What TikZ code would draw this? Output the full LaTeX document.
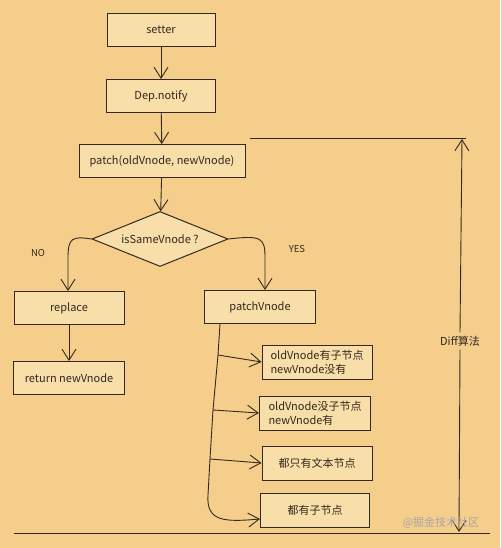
\documentclass[tikz,border=0pt]{standalone}
\usepackage{fontspec}
\setmainfont{Noto Sans CJK SC}
\usepackage{xcolor}
\usetikzlibrary{shapes,arrows.meta,positioning,calc}
\definecolor{paper}{RGB}{245,206,140}
\definecolor{boxfill}{RGB}{248,222,168}
\definecolor{ink}{RGB}{50,40,30}

\begin{document}
\begin{tikzpicture}[x=1pt, y=-1pt, font=\fontsize{11}{14}\selectfont, color=ink,
    box/.style={draw=ink, fill=boxfill, line width=1pt, minimum height=33pt, inner sep=3pt},
    decision/.style={draw=ink, fill=boxfill, line width=1pt, diamond, aspect=2.47, minimum width=136pt, minimum height=55pt, inner sep=0pt},
    flow/.style={line width=0.9pt, -{Straight Barb[length=11pt, width=14pt, line width=0.9pt]}},
    rule/.style={line width=0.9pt},
    tag/.style={font=\fontsize{9.5}{12}\selectfont}]
    % background
    \fill[paper] (0,0) rectangle (500,548);

    % main chain
    \node[box, minimum width=108pt] (setter) at (161,30) {setter};
    \node[box, minimum width=109pt] (notify) at (161,96) {Dep.notify};
    \node[box, minimum width=166pt] (patch) at (162,161) {patch(oldVnode, newVnode)};
    \node[decision] (same) at (160,239) {isSameVnode ?};

    \draw[flow] (setter) -- (notify);
    \draw[flow] (notify) -- (patch);
    \draw[flow] (patch) -- (same);

    % NO branch
    \node[tag] (no) at (38,253) {NO};
    \node[box, minimum width=110pt] (replace) at (69,308) {replace};
    \node[box, minimum width=111pt] (ret) at (69,378) {return newVnode};
    \draw[flow] (same.west) .. controls (72,236) and (68,238) .. (68,258) -- (replace.north -| 68,0);
    \draw[flow] (replace) -- (ret);

    % YES branch
    \node[tag] (yes) at (297,249) {YES};
    \node[box, minimum width=111pt] (pvnode) at (260,307) {patchVnode};
    \draw[flow] (same.east) .. controls (262,235) and (265,238) .. (265,258) -- (pvnode.north -| 265,0);

    % patchVnode cases
    \node[box, minimum width=110pt, align=left, minimum height=34pt] (caseA) at (317,362) {oldVnode有子节点\\newVnode没有};
    \node[box, minimum width=111pt, align=left, minimum height=34pt] (caseB) at (315,413) {oldVnode没子节点\\newVnode有};
    \node[box, minimum width=110pt, minimum height=34pt] (caseC) at (317,463) {都只有文本节点};
    \node[box, minimum width=109pt, minimum height=34pt] (caseD) at (315,510) {都有子节点};

    \coordinate (trunkA) at (218,355);
    \coordinate (trunkB) at (213,410);
    \coordinate (trunkC) at (210,459);
    \draw[rule] (pvnode.south -| 220,0) -- (trunkA) -- (trunkB) -- (trunkC) -- (208,495);
    \draw[flow] (208,495) .. controls (206,522) and (225,522) .. (caseD.west |- 0,519);
    \draw[flow] (trunkA) -- (caseA.west);
    \draw[flow] (trunkB) -- (caseB.west);
    \draw[flow] (trunkC) -- (caseC.west);

    % Diff range
    \coordinate (topL) at (250,138);
    \coordinate (topR) at (466,138);
    \coordinate (botL) at (14,533);
    \coordinate (botR) at (490,533);
    \draw[rule] (topL) -- (topR);
    \draw[rule] (botL) -- (botR);
    \node (diff) at (460,341) {Diff算法};
    \draw[flow] (diff.north) -- (462,139);
    \draw[flow] (diff.south) -- (459,532);

    % watermark
    \node[text=gray!70, font=\fontsize{11}{13}\selectfont] (mark) at (441,523) {@掘金技术社区};
\end{tikzpicture}
\end{document}
